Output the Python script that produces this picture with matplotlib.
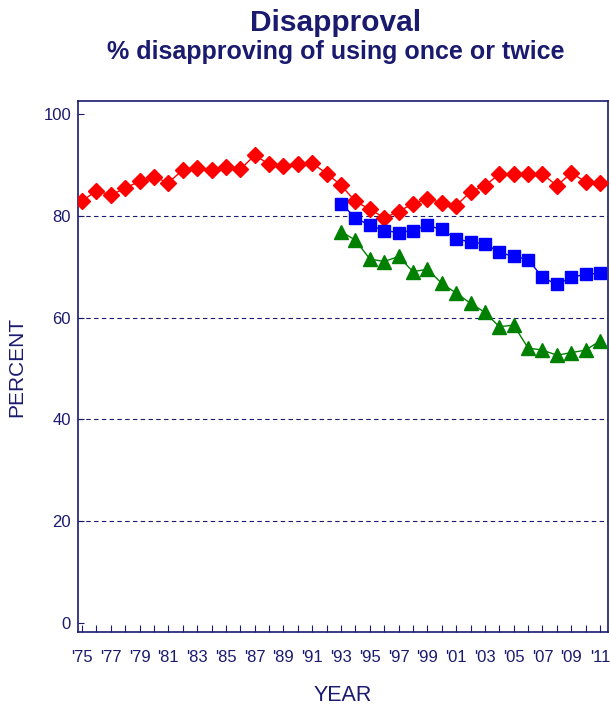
import matplotlib.pyplot as plt
import numpy as np

plt.rcParams['font.family'] = ['Liberation Sans', 'DejaVu Sans']

navy = '#1a1a6e'

years = np.arange(1975, 2012)
grade12 = [82.9, 84.9, 84.1, 85.4, 86.8, 87.6, 86.5, 89.0, 89.3, 89.0,
           89.5, 89.1, 91.9, 90.1, 89.8, 90.2, 90.3, 88.3, 86.0, 82.8,
           81.3, 79.6, 80.8, 82.4, 83.3, 82.6, 82.0, 84.7, 85.9, 88.2,
           88.2, 88.2, 88.2, 85.9, 88.4, 86.7, 86.5]

years_late = np.arange(1993, 2012)
grade10 = [82.4, 79.6, 78.1, 77.1, 76.7, 77.1, 78.1, 77.3, 75.5, 74.8,
           74.5, 72.8, 72.0, 71.4, 67.9, 66.5, 67.9, 68.5, 68.7]
grade8 = [76.9, 75.2, 71.5, 71.0, 72.0, 69.0, 69.5, 66.7, 64.8, 62.8,
          61.0, 58.2, 58.5, 54.0, 53.6, 52.6, 53.1, 53.6, 55.4]

fig = plt.figure(figsize=(6.11, 7.08), dpi=100)
ax = fig.add_axes([0.1277, 0.1073, 0.8673, 0.7497])

ax.plot(years, grade12, color='#ff0000', lw=1, marker='D', ms=8, zorder=3)
ax.plot(years_late, grade10, color='#0000ff', lw=1, marker='s', ms=9, zorder=3)
ax.plot(years_late, grade8, color='#008000', lw=1, marker='^', ms=10, zorder=3)

for yv in [20, 40, 60, 80]:
    ax.axhline(yv, color=navy, lw=0.8, ls=(0, (4, 3)), zorder=1)

ax.set_xlim(1974.72, 2011.55)
ax.set_ylim(-1.8, 102.5)
ax.set_yticks([0, 20, 40, 60, 80, 100])
ax.set_xticks(years)
ax.set_xticklabels(["'%02d" % (y % 100) if (y - 1975) % 2 == 0 else '' for y in years])
ax.tick_params(axis='x', direction='in', length=5, color=navy, labelcolor=navy,
               labelsize=12, pad=13)
ax.tick_params(axis='y', direction='in', length=4, color=navy, labelcolor=navy,
               labelsize=12, pad=5)
for s in ax.spines.values():
    s.set_color(navy)
    s.set_linewidth(1.2)

ax.set_xlabel('YEAR', color=navy, fontsize=15.5, labelpad=14)
ax.set_ylabel('PERCENT', color=navy, fontsize=15, labelpad=12)

fig.text(0.55, 0.968, 'Disapproval', ha='center', va='center', color=navy,
         fontsize=21.5, fontweight='bold')
fig.text(0.55, 0.926, '% disapproving of using once or twice', ha='center',
         va='center', color=navy, fontsize=18, fontweight='bold')

fig.savefig('out.png', dpi=100)
